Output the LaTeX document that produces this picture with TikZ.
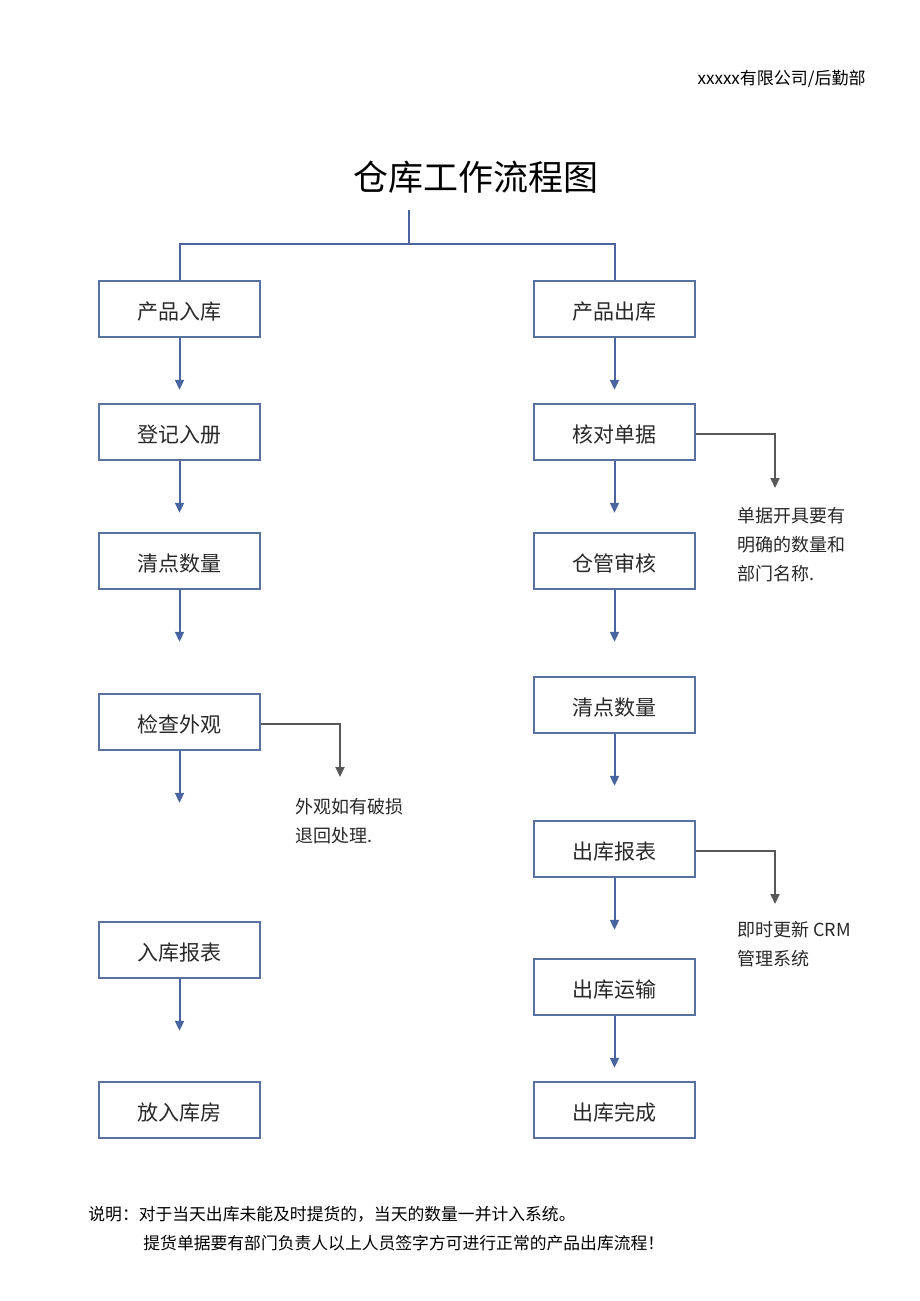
\documentclass[tikz,border=0pt]{standalone}
\usepackage{fontspec}
\newfontfamily\cjk{Noto Sans CJK SC}
\usetikzlibrary{arrows.meta}

\definecolor{boxline}{RGB}{88,114,160}
\definecolor{flowline}{RGB}{72,101,160}
\definecolor{noteline}{RGB}{88,88,88}
\definecolor{inktext}{RGB}{40,40,40}

\tikzset{
  stepbox/.style={draw=boxline, line width=0.8pt, minimum width=80.5pt, minimum height=28pt,
    inner sep=0pt, text height=10.5pt, text depth=0pt,
    font=\cjk\fontsize{10.5}{12}\selectfont, text=inktext},
  link/.style={draw=flowline, line width=1pt},
  flow/.style={link, -{Triangle[length=5pt,width=4.5pt]}},
  remark/.style={draw=noteline, line width=1pt, -{Triangle[length=5pt,width=4.5pt]}},
  notetext/.style={anchor=north west, align=left, inner sep=0pt,
    font=\cjk\fontsize{9}{14.5}\selectfont, text=inktext},
}

\begin{document}
\begin{tikzpicture}[x=0.5pt, y=-0.5pt]
  \useasboundingbox (0,0) rectangle (920,1301);

  % header and title
  \node[anchor=east, inner sep=0pt, font=\cjk\fontsize{8.5}{10}\selectfont, text=black] (firm) at (866,79) {xxxxx有限公司/后勤部};
  \node[inner sep=0pt, font=\cjk\fontsize{17.5}{20}\selectfont, text=black] (title) at (476,177) {仓库工作流程图};

  % inbound column
  \node[stepbox] (in1) at (179.5,309) {产品入库};
  \node[stepbox] (in2) at (179.5,432) {登记入册};
  \node[stepbox] (in3) at (179.5,561) {清点数量};
  \node[stepbox] (in4) at (179.5,722) {检查外观};
  \node[stepbox] (in5) at (179.5,950) {入库报表};
  \node[stepbox] (in6) at (179.5,1110) {放入库房};

  % outbound column
  \node[stepbox] (out1) at (614.5,309) {产品出库};
  \node[stepbox] (out2) at (614.5,432) {核对单据};
  \node[stepbox] (out3) at (614.5,561) {仓管审核};
  \node[stepbox] (out4) at (614.5,705) {清点数量};
  \node[stepbox] (out5) at (614.5,849) {出库报表};
  \node[stepbox] (out6) at (614.5,987) {出库运输};
  \node[stepbox] (out7) at (614.5,1110) {出库完成};

  % split from the title
  \coordinate (top) at (409,210);
  \coordinate (split) at (409,244);
  \draw[link] (top) -- (split);
  \draw[link] (split) -| (in1.north);
  \draw[link] (split) -| (out1.north);

  % down arrows
  \foreach \n in {in1,in2,in3,in4,in5,out1,out2,out3,out4,out5,out6}
    \draw[flow] (\n.south) -- ++(0,52);

  % side remarks
  \coordinate (tipA) at (775,488);
  \coordinate (tipB) at (340,777);
  \coordinate (tipC) at (775,904);
  \draw[remark] ([yshift=-1pt]out2.east) -| (tipA);
  \draw[remark] ([yshift=-1pt]in4.east) -| (tipB);
  \draw[remark] ([yshift=-1pt]out5.east) -| (tipC);
  \node[notetext] (noteA) at (737,507) {单据开具要有\\明确的数量和\\部门名称.};
  \node[notetext] (noteB) at (295,798) {外观如有破损\\退回处理.};
  \node[notetext] (noteC) at (737,921) {即时更新 CRM\\管理系统};

  % footer
  \node[anchor=west, inner sep=0pt, font=\cjk\fontsize{8.4}{10}\selectfont, text=black] (foot1) at (88,1214)
    {说明：对于当天出库未能及时提货的，当天的数量一并计入系统。};
  \node[anchor=west, inner sep=0pt, font=\cjk\fontsize{8.4}{10}\selectfont, text=black] (foot2) at (143,1243)
    {提货单据要有部门负责人以上人员签字方可进行正常的产品出库流程！};
\end{tikzpicture}
\end{document}
